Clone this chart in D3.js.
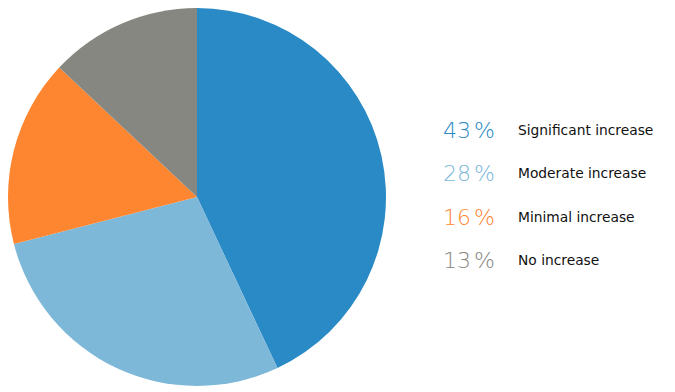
<!DOCTYPE html>
<html><head><meta charset="utf-8">
<script src="https://cdn.jsdelivr.net/npm/d3@7"></script>
<style>body{margin:0;background:#fff}svg{display:block}</style>
</head><body>
<svg id="c" width="675" height="392"></svg>
<script>
const categories = ["Significant increase","Moderate increase","Minimal increase","No increase"];
const values = [43, 28, 16, 13];
const colors = ["#2a8ac5","#7db8d9","#fe8631","#878782"];

const svg = d3.select("#c");
const cx = 197, cy = 197, r = 189;
const pie = d3.pie().sort(null).value(d => d)(values);
const arc = d3.arc().innerRadius(0).outerRadius(r);
const g = svg.append("g").attr("transform", `translate(${cx},${cy})`);
g.selectAll("path").data(pie).join("path")
  .attr("d", arc).attr("fill", (d,i) => colors[i]);

const y = d3.scalePoint().domain(categories).range([138, 268]);
const leg = svg.append("g");
categories.forEach((c,i) => {
  const t = leg.append("text").attr("x", 443).attr("y", y(c))
    .attr("font-family", "DejaVu Sans").attr("font-size", 22).attr("font-weight", 300)
    .attr("fill", colors[i]);
  t.append("tspan").text(values[i]);
  t.append("tspan").attr("dx", 3).text("%");
  leg.append("text").attr("x", 518).attr("y", y(c) - 3)
    .attr("font-family", "DejaVu Sans").attr("font-size", 13.8)
    .attr("fill", "#111").text(c);
});
</script>
</body></html>
